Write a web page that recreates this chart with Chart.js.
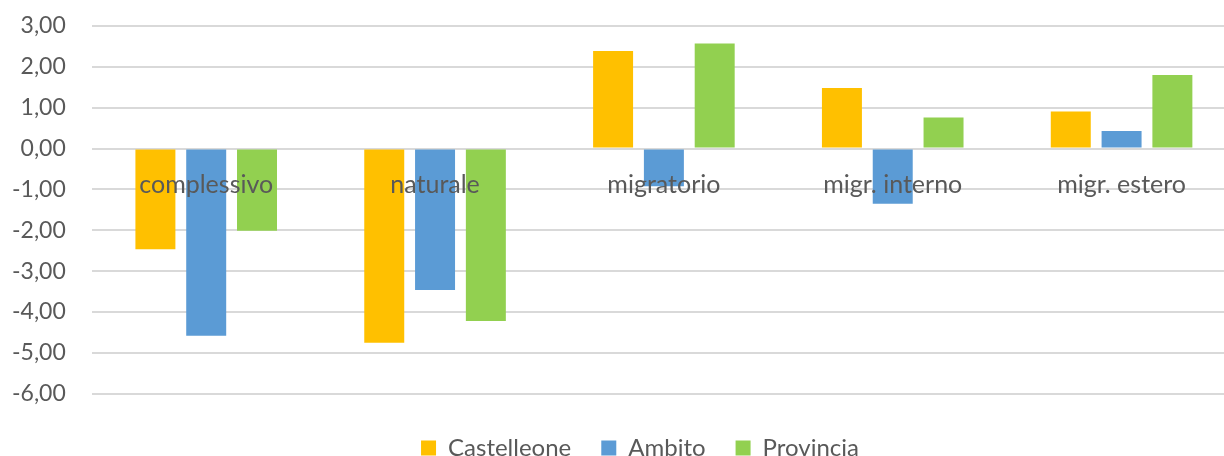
<!DOCTYPE html>
<html>
<head>
<meta charset="utf-8">
<script src="https://cdn.jsdelivr.net/npm/chart.js@4"></script>
<style>
  html, body { margin: 0; padding: 0; background: #fff; }
  #wrap { width: 1224px; height: 456px; }
</style>
</head>
<body>
<div id="wrap"><canvas id="myChart"></canvas></div>
<script>
const categories = ["complessivo", "naturale", "migratorio", "migr. interno", "migr. estero"];
const castelleone = [-2.46, -4.75, 2.39, 1.48, 0.91];
const ambito = [-4.58, -3.46, -0.92, -1.35, 0.43];
const provincia = [-2.01, -4.22, 2.57, 0.76, 1.80];

const textColor = "#595959";
const fontFamily = "Lato, 'Liberation Sans', sans-serif";

// the original chart is cropped on the right: its plot runs past the canvas edge
// and its legend sits a bit right of the canvas centre
const croppedRight = {
  id: "croppedRight",
  afterLayout(chart) {
    const x = chart.scales.x;
    x.right = chart.width + 12;
    x.width = x.right - x.left;
    x.configure();
    chart.legend.left += 22;
    chart.legend.right += 22;
  },
};

const ctx = document.getElementById("myChart");

new Chart(ctx, {
  type: "bar",
  data: {
    labels: categories,
    datasets: [
      { label: "Castelleone", data: castelleone, backgroundColor: "#FFC000" },
      { label: "Ambito", data: ambito, backgroundColor: "#5B9BD5" },
      { label: "Provincia", data: provincia, backgroundColor: "#92D050" },
    ],
  },
  plugins: [croppedRight],
  options: {
    maintainAspectRatio: false,
    animation: false,
    categoryPercentage: 0.666,
    barPercentage: 0.787,
    layout: { padding: { top: 26, right: 0, left: 12, bottom: -14 } },
    plugins: {
      tooltip: { enabled: false },
      legend: {
        position: "bottom",
        title: { display: true, text: "", font: { size: 1 }, padding: { top: 11, bottom: 0 } },
        labels: {
          boxWidth: 15,
          boxHeight: 15,
          padding: 30,
          color: textColor,
          font: { family: fontFamily, size: 24 },
        },
      },
    },
    scales: {
      x: {
        position: { y: 0 },
        grid: { display: false, drawTicks: false },
        border: { display: false },
        ticks: {
          z: 1,
          padding: 21,
          autoSkip: false,
          maxRotation: 0,
          color: textColor,
          font: { family: fontFamily, size: 25 },
        },
      },
      y: {
        min: -6,
        max: 3,
        grid: { color: "#d9d9d9", lineWidth: 2, drawTicks: true, tickLength: 26, tickColor: "rgba(0,0,0,0)" },
        border: { display: false },
        ticks: {
          stepSize: 1,
          padding: 0,
          color: textColor,
          font: { family: fontFamily, size: 23 },
          callback: (v) => v.toFixed(2).replace(".", ","),
        },
      },
    },
  },
});
</script>
</body>
</html>
